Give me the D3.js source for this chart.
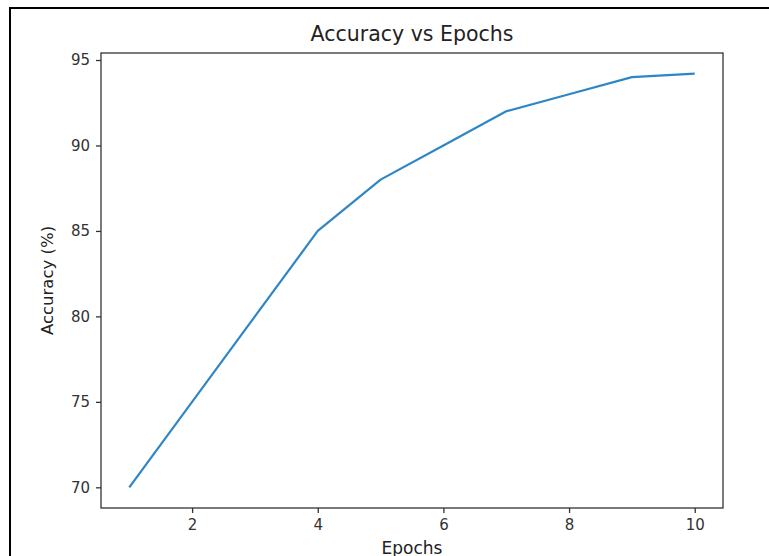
<!DOCTYPE html>
<html>
<head>
<meta charset="utf-8">
<script src="https://cdn.jsdelivr.net/npm/d3@7"></script>
<style>
  body { margin: 0; background: #fff; }
  svg { display: block; font-family: "DejaVu Sans", sans-serif; }
</style>
</head>
<body>
<div id="chart"></div>
<script>
// data
var epochs = [1, 2, 3, 4, 5, 6, 7, 8, 9, 10];
var accuracy = [70, 75, 80, 85, 88, 90, 92, 93, 94, 94.2];
var xTicks = [2, 4, 6, 8, 10];
var yTicks = [70, 75, 80, 85, 90, 95];

var svgWidth = 769;
var svgHeight = 556;

var margin = { top: 53, right: 46, bottom: 48, left: 101 };
var width = svgWidth - margin.left - margin.right;
var height = svgHeight - margin.top - margin.bottom;

var svg = d3.select("#chart")
  .append("svg")
  .attr("width", svgWidth)
  .attr("height", svgHeight);

// outer frame of the screenshot
svg.append("rect")
  .attr("x", 10)
  .attr("y", 8)
  .attr("width", svgWidth + 20)
  .attr("height", svgHeight + 20)
  .attr("fill", "none")
  .attr("stroke", "#000")
  .attr("stroke-width", 2);

var chart = svg.append("g")
  .attr("transform", `translate(${margin.left}, ${margin.top})`);

// matplotlib style 5% margins
var xPad = (d3.max(epochs) - d3.min(epochs)) * 0.05;
var yPad = (d3.max(accuracy) - d3.min(accuracy)) * 0.05;

var x = d3.scaleLinear()
  .domain([d3.min(epochs) - xPad, d3.max(epochs) + xPad])
  .range([0, width]);

var y = d3.scaleLinear()
  .domain([d3.min(accuracy) - yPad, d3.max(accuracy) + yPad])
  .range([height, 0]);

var bottomAxis = d3.axisBottom(x).tickValues(xTicks).tickSize(5).tickPadding(6);
var leftAxis = d3.axisLeft(y).tickValues(yTicks).tickSize(5).tickPadding(6);

var gx = chart.append("g")
  .attr("transform", `translate(0, ${height})`)
  .call(bottomAxis);

var gy = chart.append("g")
  .call(leftAxis);

[gx, gy].forEach(function(g) {
  g.select(".domain").remove();
  g.selectAll("line").attr("stroke", "#333").attr("stroke-width", 1.3);
  g.selectAll("text")
    .attr("fill", "#333")
    .style("font-size", "15px")
    .style("font-family", "DejaVu Sans, sans-serif");
});

// frame around the plot
chart.append("rect")
  .attr("width", width)
  .attr("height", height)
  .attr("fill", "none")
  .attr("stroke", "#333")
  .attr("stroke-width", 1.3);

var line = d3.line()
  .x(function(d, i) { return x(epochs[i]); })
  .y(function(d) { return y(d); });

chart.append("path")
  .datum(accuracy)
  .attr("d", line)
  .attr("fill", "none")
  .attr("stroke", "#2f86c6")
  .attr("stroke-width", 2.2)
  .attr("stroke-linejoin", "round");

// title and labels
chart.append("text")
  .attr("x", width / 2)
  .attr("y", -12)
  .attr("text-anchor", "middle")
  .attr("fill", "#222")
  .style("font-size", "20.5px")
  .text("Accuracy vs Epochs");

chart.append("text")
  .attr("transform", "rotate(-90)")
  .attr("x", -height / 2)
  .attr("y", -48)
  .attr("text-anchor", "middle")
  .attr("fill", "#222")
  .style("font-size", "16.5px")
  .text("Accuracy (%)");

chart.append("text")
  .attr("x", width / 2)
  .attr("y", height + 46)
  .attr("text-anchor", "middle")
  .attr("fill", "#222")
  .style("font-size", "17px")
  .text("Epochs");
</script>
</body>
</html>
